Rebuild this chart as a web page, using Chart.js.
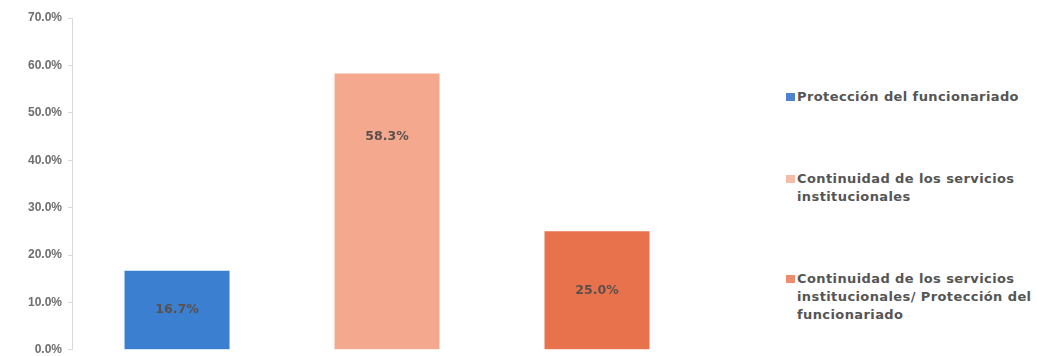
<!DOCTYPE html>
<html>
<head>
<meta charset="utf-8">
<script src="https://cdn.jsdelivr.net/npm/chart.js@4.4.1/dist/chart.umd.min.js"></script>
<style>
  html, body { margin: 0; padding: 0; background: #fff; }
  #wrap { position: relative; width: 1037px; height: 356px; overflow: hidden; }
  #box { position: absolute; left: 0; top: 0; width: 710px; height: 363px; }
  #legend { position: absolute; left: 786px; top: 0; width: 251px; height: 356px;
    font: bold 13px "DejaVu Sans", Verdana, sans-serif; color: #555; letter-spacing: 0.4px; }
  .item { position: absolute; left: 0; line-height: 18px; padding-left: 11px; white-space: nowrap; }
  .item i { position: absolute; left: 0; top: 5px; width: 9px; height: 8px; }
</style>
</head>
<body>
<div id="wrap">
  <div id="box"><canvas id="barGraph"></canvas></div>
  <div id="legend"></div>
</div>
<script>
var categories = [
  'Protección del funcionariado',
  'Continuidad de los servicios institucionales',
  'Continuidad de los servicios institucionales/ Protección del funcionariado'
];
var legendLines = [
  ['Protección del funcionariado'],
  ['Continuidad de los servicios', 'institucionales'],
  ['Continuidad de los servicios', 'institucionales/ Protección del', 'funcionariado']
];
var values = [16.7, 58.3, 25.0];
var colors = ['#3b7fd1', '#f4a98f', '#e8724c'];
var legendColors = ['#4f84cc', '#f7bca8', '#ef8c6e'];
var legendTops = [88, 170, 270];

// value labels drawn inside the bars
var barLabels = {
  id: 'barLabels',
  afterDatasetsDraw: function(chart) {
    var ctx = chart.ctx;
    var meta = chart.getDatasetMeta(0);
    var anchor = [0.5, 0.77, 0.5];
    ctx.save();
    ctx.font = 'bold 12.5px "DejaVu Sans", Verdana, sans-serif';
    ctx.fillStyle = '#5a4f4c';
    ctx.textAlign = 'center';
    ctx.textBaseline = 'middle';
    meta.data.forEach(function(bar, i) {
      var y = bar.base - (bar.base - bar.y) * anchor[i];
      ctx.fillText(values[i].toFixed(1) + '%', bar.x, y);
    });
    ctx.restore();
  }
};

var ctx = document.getElementById('barGraph').getContext('2d');
var chart = new Chart(ctx, {
  type: 'bar',
  data: {
    labels: categories,
    datasets: [{
      data: values,
      backgroundColor: colors,
      categoryPercentage: 1,
      barPercentage: 0.5
    }]
  },
  options: {
    responsive: true,
    maintainAspectRatio: false,
    animation: false,
    layout: { padding: { top: 18, bottom: 0, left: 22, right: 8 } },
    plugins: { legend: { display: false }, tooltip: { enabled: false } },
    scales: {
      x: { display: false },
      y: {
        min: 0, max: 70,
        ticks: {
          stepSize: 10,
          padding: 6,
          color: '#6e6e6e',
          font: { family: '"Liberation Sans", Arial, sans-serif', size: 12, weight: 'bold' },
          callback: function(v) { return v.toFixed(1) + '%'; }
        },
        grid: { drawOnChartArea: false, drawTicks: true, tickLength: 4, color: '#d9d9d9' },
        border: { color: '#d9d9d9' }
      }
    }
  },
  plugins: [barLabels]
});

var legend = document.getElementById('legend');
legendLines.forEach(function(lines, i) {
  var d = document.createElement('div');
  d.className = 'item';
  d.style.top = legendTops[i] + 'px';
  d.innerHTML = '<i style="background:' + legendColors[i] + '"></i>' + lines.join('<br>');
  legend.appendChild(d);
});
</script>
</body>
</html>
